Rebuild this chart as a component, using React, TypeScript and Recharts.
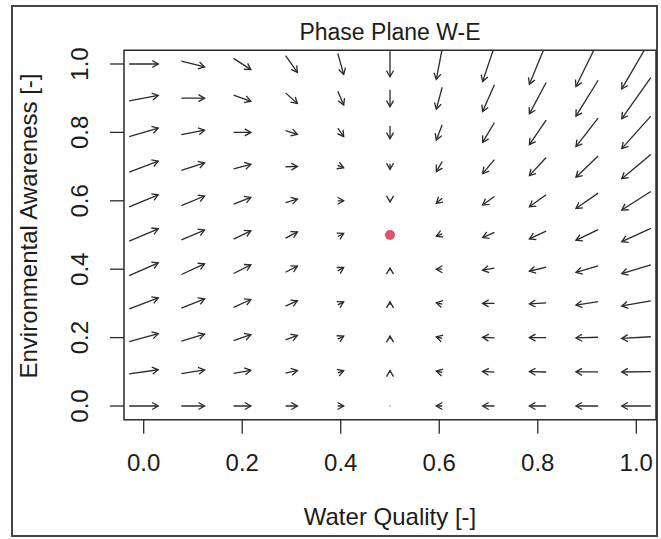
import React from "react";
import {
  ComposedChart,
  XAxis,
  YAxis,
  Scatter,
  ReferenceLine,
  ReferenceArea,
  Label,
} from "recharts";

// grid of the flow field
const xLevels = [0, 0.1, 0.2, 0.3, 0.4, 0.5, 0.6, 0.7, 0.8, 0.9, 1.0];
const yLevels = [1.0, 0.9, 0.8, 0.7, 0.6, 0.5, 0.4, 0.3, 0.2, 0.1, 0.0]; // top row first

const tickValues = [0, 0.2, 0.4, 0.6, 0.8, 1.0];

// horizontal component of each arrow, per column (same in every row)
const dxByColumn = [0.059, 0.047, 0.035, 0.024, 0.012, 0, -0.012, -0.024, -0.034, -0.045, -0.059];

// vertical component of each arrow, one row per y level (top to bottom)
const dyRows = [
  [0, -0.017, -0.033, -0.049, -0.061, -0.075, -0.09, -0.103, -0.119, -0.132, -0.146],
  [0.016, 0, -0.018, -0.031, -0.04, -0.05, -0.064, -0.078, -0.092, -0.105, -0.12],
  [0.025, 0.013, 0, -0.011, -0.025, -0.037, -0.045, -0.058, -0.072, -0.083, -0.095],
  [0.032, 0.022, 0.013, 0.001, -0.007, -0.016, -0.029, -0.041, -0.053, -0.062, -0.071],
  [0.035, 0.028, 0.02, 0.01, 0, -0.007, -0.015, -0.025, -0.035, -0.045, -0.054],
  [0.036, 0.029, 0.024, 0.018, 0.009, 0, -0.007, -0.015, -0.023, -0.031, -0.039],
  [0.037, 0.031, 0.025, 0.018, 0.01, 0.007, 0, -0.006, -0.012, -0.019, -0.026],
  [0.032, 0.027, 0.023, 0.016, 0.009, 0.009, 0.004, 0, -0.003, -0.01, -0.015],
  [0.023, 0.02, 0.017, 0.013, 0.009, 0.009, 0.005, 0.002, 0, -0.002, -0.005],
  [0.012, 0.011, 0.009, 0.008, 0.006, 0.007, 0.004, 0.002, 0.001, 0, -0.001],
  [0, 0, 0, 0, 0, 0, 0, 0, 0, 0, 0],
];

const equilibrium = [{ x: 0.5, y: 0.5 }];

const FONT = '"Liberation Sans", Arial, Helvetica, sans-serif';
const INK = "#1c1c1c";
const LINE = "#2a2a2a";
const DOMAIN: [number, number] = [-0.04, 1.04];

// arrows are centred on their grid point
const arrows = yLevels.flatMap((y, r) =>
  xLevels.map((x, c) => {
    const dx = dxByColumn[c];
    const dy = dyRows[r][c];
    return {
      key: `a-${r}-${c}`,
      from: { x: x - dx / 2, y: y - dy / 2 },
      to: { x: x + dx / 2, y: y + dy / 2 },
    };
  })
);

const ArrowShape = (props: any) => {
  const { x1, y1, x2, y2, clipPath } = props;
  const len = Math.hypot(x2 - x1, y2 - y1);
  if (!isFinite(len)) return <g />;
  if (len < 0.5) {
    return <circle cx={x2} cy={y2} r={0.8} fill="#888" />;
  }
  const ang = Math.atan2(y2 - y1, x2 - x1);
  const head = 7;
  const spread = Math.PI / 6;
  const ax = x2 - head * Math.cos(ang - spread);
  const ay = y2 - head * Math.sin(ang - spread);
  const bx = x2 - head * Math.cos(ang + spread);
  const by = y2 - head * Math.sin(ang + spread);
  return (
    <g clipPath={clipPath} stroke={LINE} strokeWidth={1.3} fill="none">
      <line x1={x1} y1={y1} x2={x2} y2={y2} />
      <polyline points={`${ax},${ay} ${x2},${y2} ${bx},${by}`} />
    </g>
  );
};

const YTick = (props: any) => {
  const { x, y, payload } = props;
  return (
    <text
      transform={`translate(${x},${y}) rotate(-90)`}
      textAnchor="middle"
      fontSize={24}
      fontFamily={FONT}
      fill={INK}
    >
      {Number(payload.value).toFixed(1)}
    </text>
  );
};

export default function App() {
  return (
    <div style={{ position: "absolute", left: 0, top: 0, width: 661, height: 539, background: "#fff" }}>
      <div
        style={{
          position: "absolute",
          left: 11,
          top: 5,
          width: 647,
          height: 532,
          boxSizing: "border-box",
          border: "2px solid #444",
        }}
      />
      <ComposedChart
        width={661}
        height={539}
        margin={{ top: 50.3, right: 5, bottom: 19.3, left: 0 }}
        style={{ position: "absolute", left: 0, top: 0 }}
      >
        <XAxis
          dataKey="x"
          type="number"
          domain={DOMAIN}
          allowDataOverflow
          ticks={tickValues}
          interval={0}
          axisLine={false}
          tickSize={14}
          tickMargin={20}
          tickLine={{ stroke: LINE, strokeWidth: 1.3 }}
          tick={{ fontSize: 24, fill: INK, fontFamily: FONT }}
          tickFormatter={(v: number) => v.toFixed(1)}
          height={100}
        >
          <Label
            content={({ viewBox }: any) => (
              <text
                x={viewBox.x + viewBox.width / 2}
                y={viewBox.y + 105}
                textAnchor="middle"
                fontSize={24}
                fontFamily={FONT}
                fill={INK}
              >
                Water Quality [-]
              </text>
            )}
          />
        </XAxis>
        <YAxis
          dataKey="y"
          type="number"
          domain={DOMAIN}
          allowDataOverflow
          ticks={tickValues}
          interval={0}
          axisLine={false}
          tickSize={14}
          tickMargin={22.5}
          tickLine={{ stroke: LINE, strokeWidth: 1.3 }}
          tick={<YTick />}
          width={124}
        >
          <Label
            content={({ viewBox }: any) => (
              <text
                transform={`translate(${viewBox.x + 37},${viewBox.y + viewBox.height / 2 - 9}) rotate(-90)`}
                textAnchor="middle"
                fontSize={24}
                fontFamily={FONT}
                fill={INK}
              >
                Environmental Awareness [-]
              </text>
            )}
          />
        </YAxis>

        {arrows.map((a) => (
          <ReferenceLine
            key={a.key}
            segment={[a.from, a.to]}
            ifOverflow="hidden"
            shape={(p: any) => <ArrowShape {...p} />}
          />
        ))}

        <ReferenceArea
          x1={DOMAIN[0]}
          x2={DOMAIN[1]}
          y1={DOMAIN[0]}
          y2={DOMAIN[1]}
          fill="none"
          stroke={LINE}
          strokeWidth={1.5}
          ifOverflow="visible"
        >
          <Label
            content={({ viewBox }: any) => (
              <text
                x={viewBox.x + viewBox.width / 2}
                y={viewBox.y - 10}
                textAnchor="middle"
                fontSize={23}
                fontFamily={FONT}
                fill={INK}
              >
                Phase Plane W-E
              </text>
            )}
          />
        </ReferenceArea>

        <Scatter
          data={equilibrium}
          dataKey="y"
          isAnimationActive={false}
          shape={(p: any) => <circle cx={p.cx} cy={p.cy} r={5} fill="#DF536B" />}
        />
      </ComposedChart>
    </div>
  );
}
